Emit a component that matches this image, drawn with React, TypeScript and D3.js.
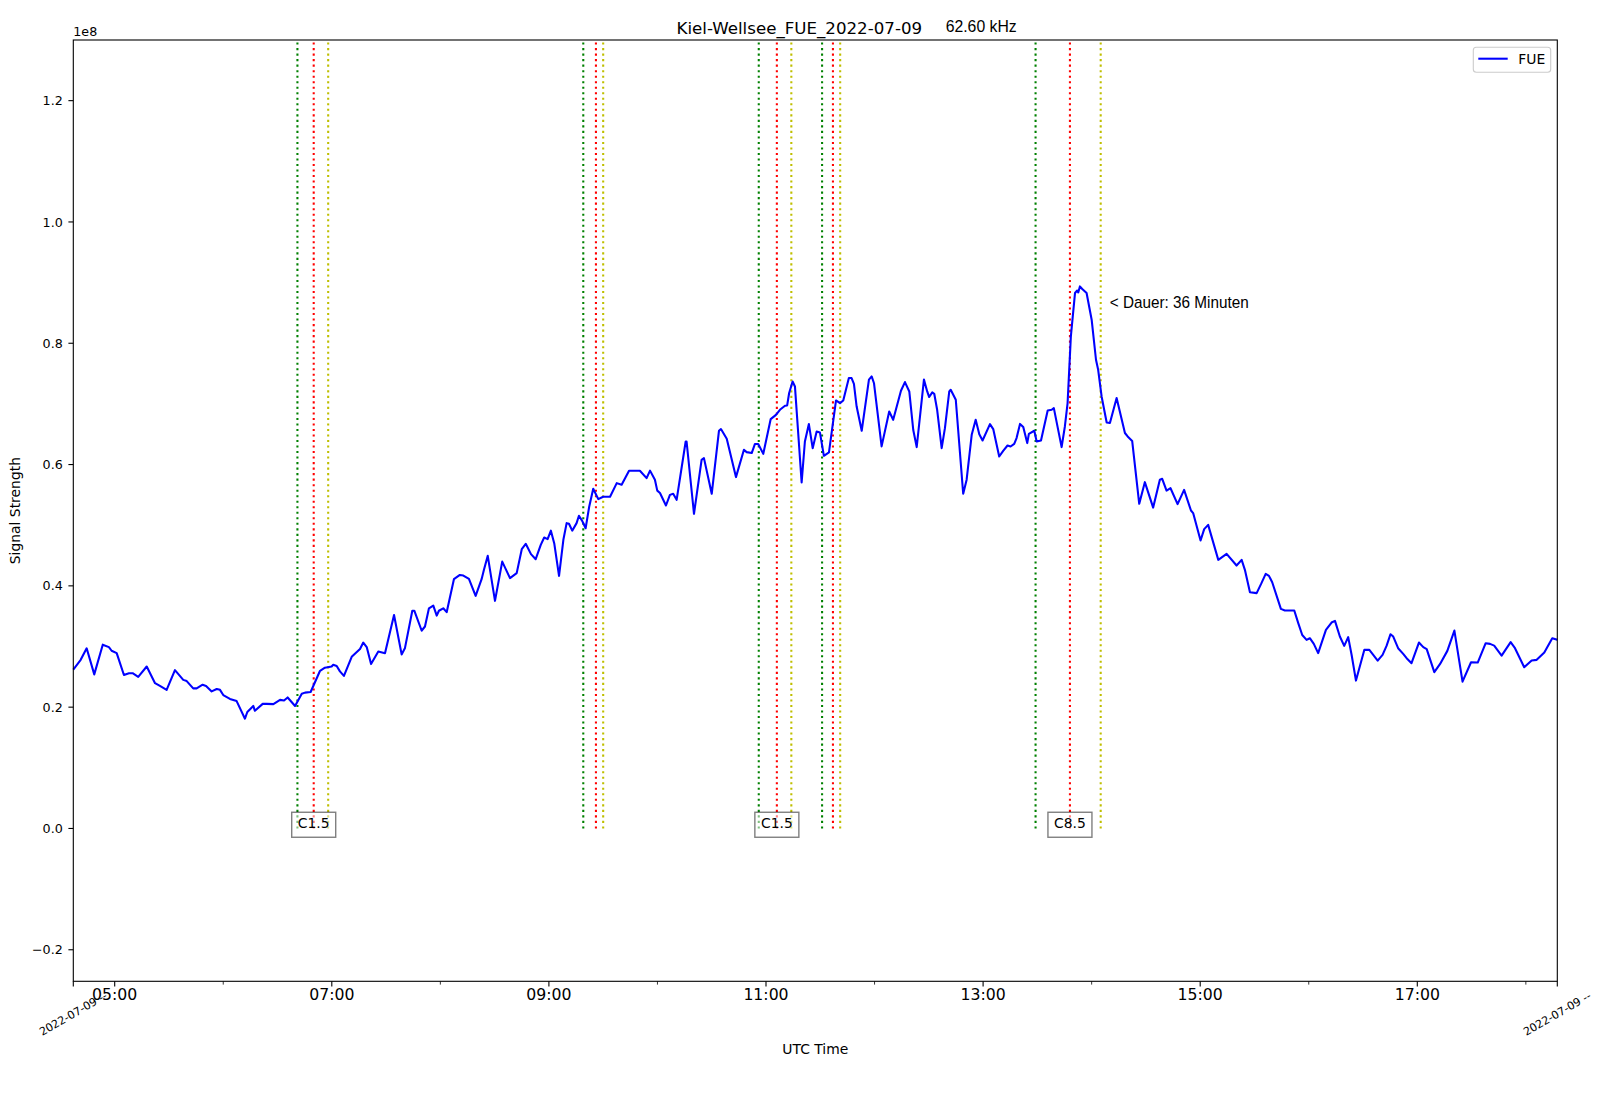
import React from "react";
import * as d3 from "d3";

// ---------- data ----------
const SCALE = 1e8;
const times: string[] = [
  "04:37:07","04:41:12","04:44:30","04:48:42","04:53:24","04:56:48","04:58:18","05:01:06","05:05:06","05:07:54",
  "05:09:54","05:13:00","05:17:42","05:22:18","05:25:00","05:28:42","05:33:18","05:37:54","05:39:48","05:43:24",
  "05:45:18","05:48:36","05:50:30","05:53:36","05:56:24","05:58:12","06:00:00","06:03:42","06:07:24","06:12:00",
  "06:13:18","06:16:36","06:17:30","06:21:48","06:24:00","06:27:42","06:31:24","06:33:36","06:35:36","06:39:42",
  "06:43:24","06:45:12","06:48:18","06:53:30","06:56:12","06:59:54","07:00:48","07:02:42","07:04:30","07:06:42",
  "07:11:00","07:15:36","07:17:24","07:19:18","07:21:42","07:25:42","07:29:24","07:34:24","07:38:36","07:40:24",
  "07:44:30","07:45:36","07:49:42","07:51:30","07:53:42","07:56:06","07:58:00","07:59:12","08:01:36","08:03:30",
  "08:07:30","08:10:48","08:12:42","08:15:48","08:19:30","08:22:48","08:24:06","08:26:12","08:30:12","08:34:12",
  "08:38:30","08:42:12","08:45:00","08:47:12","08:50:06","08:52:42","08:55:30","08:57:24","08:59:18","09:01:06",
  "09:03:00","09:05:36","09:08:00","09:09:48","09:11:06","09:12:54","09:15:18","09:16:36","09:18:24","09:20:18",
  "09:22:18","09:24:30","09:27:18","09:30:00","09:33:48","09:37:30","09:40:12","09:44:18","09:50:18","09:54:00",
  "09:55:54","09:58:36","09:59:54","10:01:24","10:04:42","10:06:54","10:08:42","10:10:36","10:15:36","10:16:06",
  "10:20:12","10:24:24","10:25:42","10:30:00","10:34:00","10:35:06","10:38:18","10:43:24","10:47:48","10:49:18",
  "10:52:06","10:53:54","10:55:42","10:58:30","11:02:36","11:05:30","11:07:42","11:10:30","11:11:42","11:12:48",
  "11:14:42","11:16:00","11:19:42","11:21:30","11:23:42","11:25:48","11:28:00","11:29:48","11:32:00","11:34:48",
  "11:38:42","11:40:54","11:42:42","11:45:48","11:47:18","11:48:36","11:50:06","11:52:54","11:56:54","11:58:24",
  "11:59:42","12:03:54","12:08:06","12:10:18","12:14:36","12:16:48","12:19:12","12:21:24","12:23:18","12:27:18",
  "12:29:06","12:30:12","12:31:54","12:33:00","12:34:36","12:37:06","12:38:54","12:41:18","12:42:06","12:44:54",
  "12:49:00","12:50:54","12:53:42","12:55:54","12:57:54","12:59:42","13:03:48","13:05:36","13:08:54","13:11:06",
  "13:13:30","13:15:12","13:17:12","13:18:30","13:20:24","13:22:12","13:24:24","13:25:18","13:28:18","13:29:36",
  "13:32:00","13:35:42","13:37:54","13:39:06","13:43:24","13:45:12","13:46:42","13:48:30","13:50:48","13:52:00",
  "13:52:36","13:53:30","13:54:48","13:57:12","14:00:00","14:02:24","14:03:36","14:05:30","14:08:18","14:10:06",
  "14:13:48","14:18:24","14:19:54","14:22:24","14:26:18","14:29:24","14:34:00","14:37:42","14:39:00","14:41:24",
  "14:43:36","14:47:30","14:51:06","14:54:54","14:56:06","15:00:12","15:02:12","15:04:24","15:10:00","15:14:36",
  "15:20:06","15:22:54","15:24:42","15:27:30","15:31:12","15:33:36","15:36:12","15:38:00","15:39:48","15:44:36",
  "15:46:48","15:52:00","15:54:12","15:56:24","15:58:48","16:00:36","16:02:48","16:05:12","16:09:30","16:12:36",
  "16:14:30","16:17:12","16:19:36","16:21:48","16:23:42","16:26:06","16:30:42","16:33:30","16:38:06","16:40:48",
  "16:43:00","16:45:12","16:46:42","16:49:24","16:52:12","16:54:06","16:56:48","17:00:54","17:03:18","17:05:12",
  "17:09:24","17:12:36","17:16:36","17:20:30","17:25:00","17:29:42","17:33:24","17:37:48","17:40:12","17:42:30",
  "17:46:36","17:51:36","17:54:00","17:59:06","18:03:12","18:06:00","18:10:12","18:14:36","18:17:23",
];
const fueValues: number[] = [
  0.262,0.278,0.297,0.254,0.303,0.299,0.293,0.289,0.253,0.256,
  0.256,0.250,0.267,0.2395,0.235,0.2285,0.261,0.245,0.243,0.231,
  0.231,0.237,0.235,0.226,0.230,0.2285,0.220,0.2136,0.210,0.181,
  0.192,0.202,0.194,0.2054,0.2054,0.205,0.212,0.211,0.216,0.202,
  0.222,0.224,0.225,0.260,0.265,0.267,0.270,0.268,0.259,0.2515,
  0.283,0.296,0.3065,0.299,0.271,0.2916,0.289,0.352,0.287,0.297,
  0.359,0.359,0.326,0.333,0.363,0.3675,0.351,0.359,0.363,0.3566,
  0.411,0.418,0.417,0.4115,0.3835,0.411,0.4264,0.4495,0.3753,0.440,
  0.4127,0.421,0.4605,0.4693,0.4523,0.444,0.4676,0.4797,0.477,0.491,
  0.4693,0.4165,0.476,0.5034,0.5023,0.491,0.5034,0.5155,0.5072,0.495,
  0.531,0.560,0.543,0.547,0.547,0.5694,0.5666,0.5897,0.5897,0.5776,
  0.590,0.575,0.557,0.553,0.5325,0.550,0.5518,0.5419,0.638,0.638,
  0.5188,0.6078,0.6106,0.5518,0.6557,0.6585,0.6425,0.5793,0.6243,0.6205,
  0.619,0.634,0.634,0.6177,0.675,0.682,0.6903,0.697,0.6975,0.718,
  0.737,0.7288,0.5704,0.638,0.6667,0.627,0.6545,0.653,0.6144,0.620,
  0.7057,0.7013,0.7057,0.7426,0.7426,0.733,0.6957,0.6557,0.740,0.7453,
  0.734,0.630,0.6875,0.6738,0.7216,0.736,0.7205,0.657,0.6288,0.740,
  0.7205,0.7113,0.719,0.7167,0.6903,0.627,0.66,0.7205,0.7233,0.7068,
  0.5518,0.575,0.649,0.6738,0.650,0.6397,0.6667,0.6585,0.6133,0.6227,
  0.6314,0.6298,0.634,0.6436,0.667,0.6618,0.6354,0.6507,0.6557,0.638,
  0.6397,0.6892,0.6903,0.693,0.6288,0.6628,0.7013,0.811,0.8828,0.887,
  0.8838,0.8937,0.8894,0.8828,0.8388,0.7728,0.7563,0.7123,0.6694,0.6684,
  0.7096,0.652,0.6463,0.639,0.5353,0.571,0.529,0.575,0.5765,0.557,
  0.561,0.5348,0.5583,0.5242,0.520,0.4747,0.4935,0.5006,0.4429,0.4528,
  0.4335,0.4429,0.4264,0.3896,0.388,0.4028,0.4198,0.4165,0.406,0.362,
  0.3593,0.3593,0.3385,0.319,0.311,0.3137,0.3043,0.289,0.3274,0.3395,
  0.3423,0.3164,0.301,0.3154,0.286,0.2438,0.2944,0.2944,0.2768,0.2862,
  0.301,0.3203,0.3164,0.2972,0.2878,0.2807,0.2725,0.3065,0.299,0.2956,
  0.2577,0.2713,0.2928,0.3263,0.2421,0.2741,0.2735,0.3055,0.3043,0.3015,
  0.285,0.3071,0.2972,0.2659,0.2768,0.278,0.290,0.3137,0.311,
];

const eventStart: string[] = ["06:41:00", "09:19:00", "10:56:00", "11:31:00", "13:29:00"];
const eventPeak: string[] = ["06:50:00", "09:26:00", "11:06:00", "11:37:00", "13:48:00"];
const eventEnd: string[] = ["06:58:00", "09:30:00", "11:14:00", "11:41:00", "14:05:00"];
const eventClass: string[] = ["C1.5", "", "C1.5", "", "C8.5"];

const majorTicks: string[] = ["05:00", "07:00", "09:00", "11:00", "13:00", "15:00", "17:00"];
const minorTicks: string[] = ["06:00", "08:00", "10:00", "12:00", "14:00", "16:00", "18:00"];
const yTicks: number[] = [-0.2, 0, 0.2, 0.4, 0.6, 0.8, 1.0, 1.2];

const xStart = "04:37:07";
const xEnd = "18:17:23";
const yMin = -0.252;
const yMax = 1.3;

const titleText = "Kiel-Wellsee_FUE_2022-07-09";
const freqText = "62.60 kHz";
const durationText = "< Dauer: 36 Minuten";
const dateLabel = "2022-07-09 --";

// ---------- layout ----------
const W = 1600;
const H = 1102;
const L = 73.3, R = 1557.3, T = 40, B = 981.3;
const DV = "DejaVu Sans, sans-serif";
const AR = "Liberation Sans, Arial, sans-serif";

const parseT = d3.utcParse("%H:%M:%S");
const parseHM = d3.utcParse("%H:%M");

export default function App() {
  const x = d3.scaleUtc().domain([parseT(xStart)!, parseT(xEnd)!]).range([L, R]);
  const y = d3.scaleLinear().domain([yMin * SCALE, yMax * SCALE]).range([B, T]);

  const data = times.map((t, i) => ({ t: parseT(t)!, v: fueValues[i] * SCALE }));
  const line = d3
    .line<{ t: Date; v: number }>()
    .x((d) => x(d.t))
    .y((d) => y(d.v));

  const y0 = y(0);
  const yTop = y(yMax * SCALE);
  const vlines: { x: number; color: string }[] = [];
  eventStart.forEach((s, i) => {
    vlines.push({ x: x(parseT(s)!), color: "#008000" });
    vlines.push({ x: x(parseT(eventPeak[i])!), color: "#ff0000" });
    vlines.push({ x: x(parseT(eventEnd[i])!), color: "#bfbf00" });
  });

  const fmtY = (v: number) => (v < 0 ? "\u2212" : "") + Math.abs(v).toFixed(1);

  // annotation position: 5 min after last event end
  const annT = new Date(parseT(eventEnd[4])!.getTime() + 5 * 60000);

  return (
    <svg
      width={W}
      height={H}
      style={{ position: "absolute", left: 0, top: 0, background: "#fff" }}
      fontFamily={DV}
    >
      <rect x={0} y={0} width={W} height={H} fill="#fff" />

      {/* event lines */}
      {vlines.map((v, i) => (
        <line
          key={"v" + i}
          x1={v.x}
          x2={v.x}
          y1={y0}
          y2={yTop}
          stroke={v.color}
          strokeWidth={2.08}
          strokeDasharray="2.08,3.44"
        />
      ))}

      {/* class labels */}
      {eventClass.map((c, i) =>
        c ? (
          <g key={"c" + i}>
            <rect
              x={x(parseT(eventPeak[i])!) - 22}
              y={y0 - 16.2}
              width={44}
              height={25}
              fill="#fff"
              fillOpacity={0.5}
              stroke="#000"
              strokeOpacity={0.5}
              strokeWidth={1.4}
            />
            <text
              x={x(parseT(eventPeak[i])!)}
              y={y0}
              textAnchor="middle"
              fontSize={13.9}
              fill="#000"
            >
              {c}
            </text>
          </g>
        ) : null
      )}

      {/* data line */}
      <path d={line(data) || ""} fill="none" stroke="#0000ff" strokeWidth={2.08} strokeLinejoin="round" />

      {/* frame */}
      <rect x={L} y={T} width={R - L} height={B - T} fill="none" stroke="#000" strokeWidth={1.1} />

      {/* y axis ticks */}
      {yTicks.map((v) => (
        <g key={"y" + v}>
          <line x1={L - 4.9} x2={L} y1={y(v * SCALE)} y2={y(v * SCALE)} stroke="#000" strokeWidth={1.1} />
          <text
            x={L - 10.5}
            y={y(v * SCALE)}
            dy="0.36em"
            textAnchor="end"
            fontSize={12.7}
            fill="#000"
          >
            {fmtY(v)}
          </text>
        </g>
      ))}
      <text x={L} y={36} fontSize={12.7} fill="#000">1e8</text>

      {/* x axis ticks */}
      {majorTicks.map((h) => {
        const xx = x(parseHM(h)!);
        return (
          <g key={"mx" + h}>
            <line x1={xx} x2={xx} y1={B} y2={B + 5.3} stroke="#000" strokeWidth={1.1} />
            <text x={xx} y={1000} textAnchor="middle" fontSize={15.7} fill="#000">
              {h}
            </text>
          </g>
        );
      })}
      {minorTicks.map((h) => {
        const xx = x(parseHM(h)!);
        return <line key={"mn" + h} x1={xx} x2={xx} y1={B} y2={B + 3.3} stroke="#000" strokeWidth={0.8} />;
      })}
      <line x1={L} x2={L} y1={B} y2={B + 5.3} stroke="#000" strokeWidth={1.1} />
      <line x1={R} x2={R} y1={B} y2={B + 5.3} stroke="#000" strokeWidth={1.1} />

      {/* date labels at axis limits */}
      {[L, R].map((xx, i) => (
        <text
          key={"d" + i}
          transform={`translate(${xx},1014) rotate(-30)`}
          textAnchor="middle"
          dominantBaseline="central"
          fontSize={11.1}
          fill="#000"
        >
          {dateLabel}
        </text>
      ))}

      {/* axis labels */}
      <text x={(L + R) / 2} y={1054} textAnchor="middle" fontSize={13.9} fill="#000">
        UTC Time
      </text>
      <text
        transform={`translate(20,${(T + B) / 2}) rotate(-90)`}
        textAnchor="middle"
        fontSize={13.9}
        fill="#000"
      >
        Signal Strength
      </text>

      {/* title */}
      <text x={799.3} y={34} textAnchor="middle" fontSize={16.67} fill="#000">
        {titleText}
      </text>
      <text
        x={945.7}
        y={31.7}
        fontFamily={AR}
        fontSize={16.3}
        textLength={71}
        lengthAdjust="spacingAndGlyphs"
        fill="#000"
      >
        {freqText}
      </text>

      {/* duration annotation */}
      <text
        x={x(annT)}
        y={y(0.858 * SCALE)}
        fontFamily={AR}
        fontSize={17}
        textLength={139}
        lengthAdjust="spacingAndGlyphs"
        fill="#000"
      >
        {durationText}
      </text>

      {/* legend */}
      <rect x={1473.3} y={47.3} width={77.4} height={25} rx={3} fill="#fff" fillOpacity={0.8} stroke="#cccccc" strokeWidth={1.1} />
      <line x1={1478.3} x2={1507.7} y1={58.7} y2={58.7} stroke="#0000ff" strokeWidth={2.08} />
      <text x={1518.3} y={64} fontSize={13.9} fill="#000">FUE</text>
    </svg>
  );
}
